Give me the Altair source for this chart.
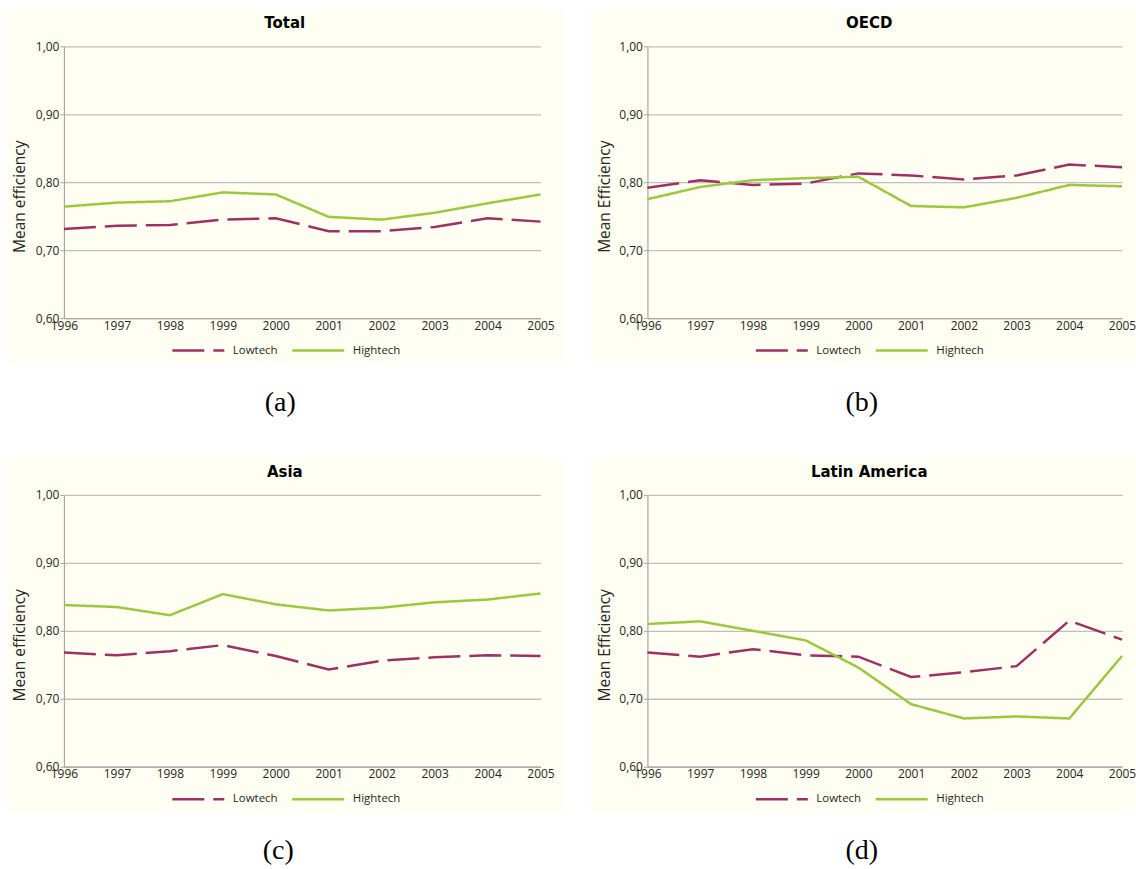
import altair as alt
import pandas as pd

years = list(range(1996, 2006))
series_names = ["Lowtech", "Hightech"]
y_ticks = [0.6, 0.7, 0.8, 0.9, 1.0]

total_low = [0.731, 0.736, 0.737, 0.745, 0.747, 0.728, 0.728, 0.734, 0.747, 0.742]
total_high = [0.764, 0.770, 0.772, 0.785, 0.782, 0.749, 0.745, 0.755, 0.769, 0.782]
oecd_low = [0.792, 0.803, 0.796, 0.798, 0.813, 0.810, 0.804, 0.810, 0.826, 0.822]
oecd_high = [0.775, 0.793, 0.803, 0.806, 0.808, 0.765, 0.763, 0.777, 0.796, 0.794]
asia_low = [0.768, 0.764, 0.770, 0.779, 0.763, 0.743, 0.756, 0.761, 0.764, 0.763]
asia_high = [0.838, 0.835, 0.823, 0.854, 0.839, 0.830, 0.834, 0.842, 0.846, 0.855]
latam_low = [0.768, 0.762, 0.773, 0.764, 0.762, 0.732, 0.739, 0.748, 0.815, 0.787]
latam_high = [0.810, 0.814, 0.800, 0.786, 0.746, 0.692, 0.671, 0.674, 0.671, 0.763]

PURPLE = "#9E3066"
GREEN = "#9BC83C"
CREAM = "#FEFEF2"
LABEL_FONT = "Open Sans"


def panel(title, ytitle, caption, low, high, width, left, right, title_dx, cap_x):
    df = pd.DataFrame({
        "year": years + years,
        "value": low + high,
        "series": ["Lowtech"] * len(years) + ["Hightech"] * len(years),
    })
    legend = alt.Legend(
        title=None, orient="none", legendX=left + 107, legendY=315,
        direction="horizontal", symbolType="stroke", symbolSize=2704,
        symbolStrokeWidth=2.5, labelFont=LABEL_FONT, labelFontSize=11.5,
        labelColor="#262626", labelOffset=7, columnPadding=9,
    )
    return alt.Chart(df).mark_line(strokeWidth=2.5, clip=False).encode(
        x=alt.X(
            "year:Q",
            scale=alt.Scale(domain=[1996, 2005], range=[left, right], nice=False, zero=False),
            axis=alt.Axis(
                values=years, format="d", orient="bottom", offset=-46,
                grid=False, ticks=False, domainColor="#a6a6a6", domainWidth=1.2,
                labelFont=LABEL_FONT, labelFontSize=12, labelColor="#262626",
                labelPadding=2, labelOverlap=False, labelFlush=False,
                title=caption, titleFont="Liberation Serif", titleFontSize=28,
                titleFontWeight="normal", titleColor="black",
                titleX=cap_x, titleY=84, titleAlign="center", titleBaseline="middle",
            ),
        ),
        y=alt.Y(
            "value:Q",
            scale=alt.Scale(domain=[0.6, 1.0], range=[310, 38], nice=False, zero=False),
            axis=alt.Axis(
                values=y_ticks, orient="left", offset=-left,
                labelExpr="replace(format(datum.value, '.2f'), '.', ',')",
                grid=True, gridColor="#bfbfbf", gridWidth=1.3,
                domainColor="#a6a6a6", domainWidth=1.2,
                tickSize=4, tickColor="#a6a6a6", labelPadding=1,
                labelFont=LABEL_FONT, labelFontSize=12, labelColor="#262626",
                title=ytitle, titleFont=LABEL_FONT, titleFontSize=15.5,
                titleFontWeight="normal", titleColor="#262626",
                titleX=13 - left, titleY=188, titleBaseline="middle", titleAlign="center",
            ),
        ),
        color=alt.Color("series:N", scale=alt.Scale(domain=series_names, range=[PURPLE, GREEN]),
                        legend=legend),
        strokeDash=alt.StrokeDash("series:N",
                                  scale=alt.Scale(domain=series_names, range=[[32, 9], [1, 0]]),
                                  legend=legend),
    ).properties(
        width=width, height=356,
        title=alt.TitleParams(
            text=title, font="DejaVu Sans", fontSize=15, fontWeight="bold", color="black",
            anchor="middle", frame="group", offset=-14, dy=16, baseline="middle", dx=title_dx,
        ),
    )


a = panel("Total", "Mean efficiency", "(a)", total_low, total_high, 556, 57, 534, 0, 273)
b = panel("OECD", "Mean Efficiency", "(b)", oecd_low, oecd_high, 544, 56, 531, 6, 270)
c = panel("Asia", "Mean efficiency", "(c)", asia_low, asia_high, 556, 57, 534, 0, 271)
d = panel("Latin America", "Mean Efficiency", "(d)", latam_low, latam_high, 544, 56, 531, 6, 270)

chart = alt.concat(
    a, b, c, d, columns=2, spacing={"row": 93, "column": 29}, bounds="flush",
).resolve_scale(
    color="independent", strokeDash="independent",
).resolve_legend(
    color="independent", strokeDash="independent",
).properties(
    padding={"left": 7, "top": 8, "right": 0, "bottom": 0},
    background="white",
).configure_view(
    fill=CREAM, strokeWidth=0,
)

chart.save("out.html", embed_options={"renderer": "svg", "actions": False})
